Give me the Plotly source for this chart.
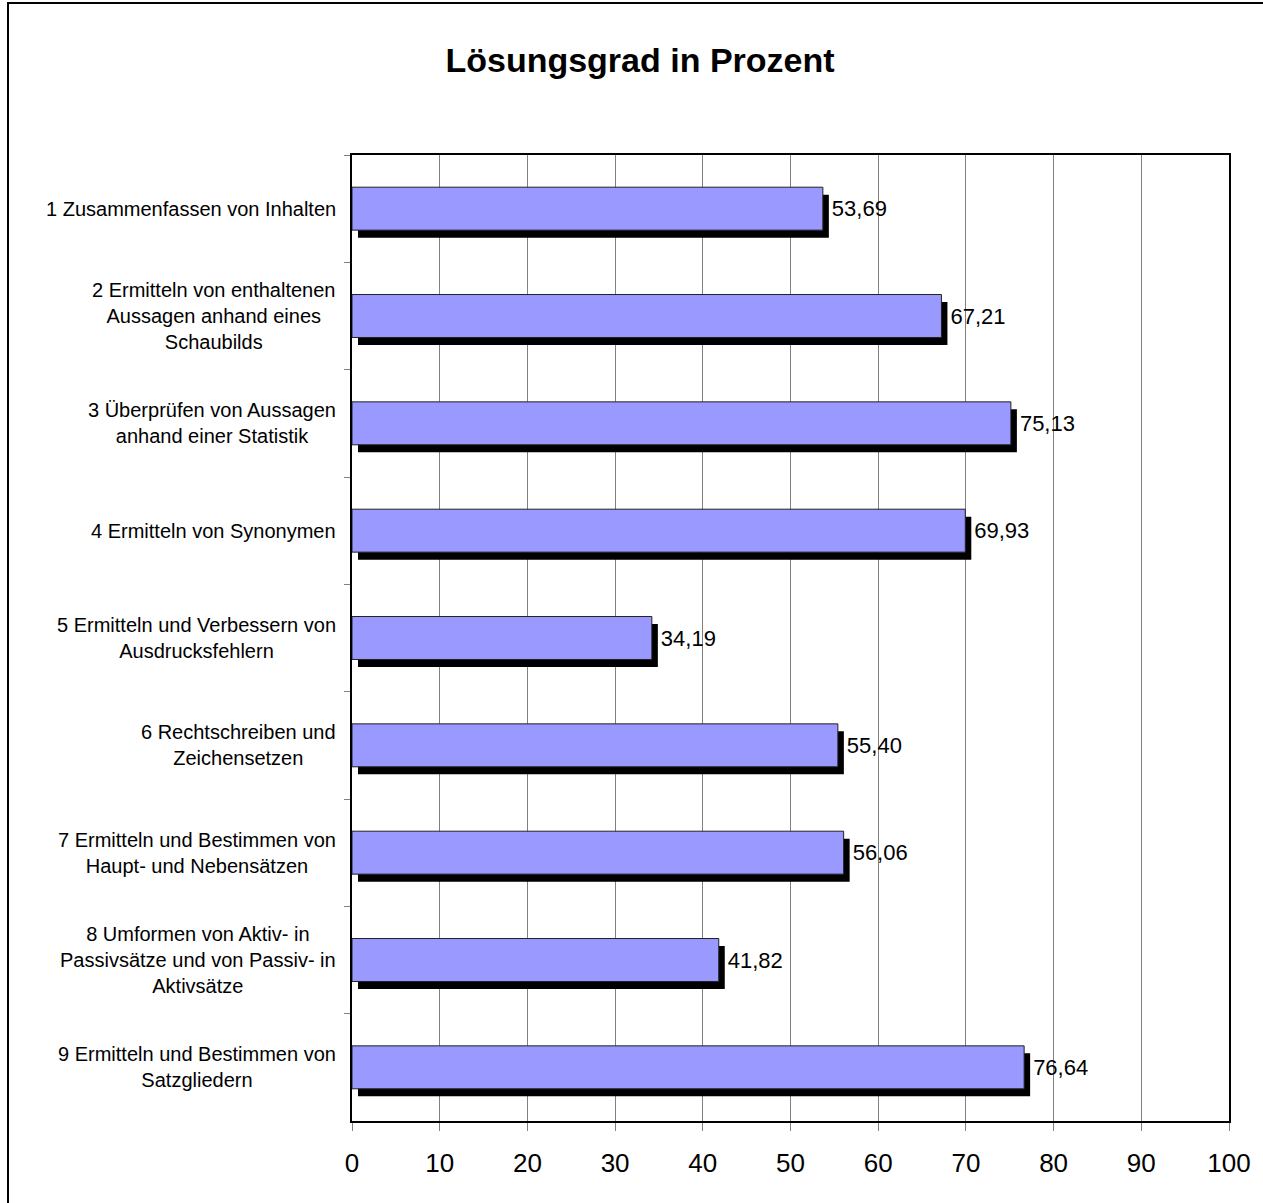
import plotly.graph_objects as go

categories = [
    "1 Zusammenfassen von Inhalten",
    "2 Ermitteln von enthaltenen<br>Aussagen anhand eines<br>Schaubilds",
    "3 Überprüfen von Aussagen<br>anhand einer Statistik",
    "4 Ermitteln von Synonymen",
    "5 Ermitteln und Verbessern von<br>Ausdrucksfehlern",
    "6 Rechtschreiben und<br>Zeichensetzen",
    "7 Ermitteln und Bestimmen von<br>Haupt- und Nebensätzen",
    "8 Umformen von Aktiv- in<br>Passivsätze und von Passiv- in<br>Aktivsätze",
    "9 Ermitteln und Bestimmen von<br>Satzgliedern",
]
values = [53.69, 67.21, 75.13, 69.93, 34.19, 55.40, 56.06, 41.82, 76.64]
x_ticks = [0, 10, 20, 30, 40, 50, 60, 70, 80, 90, 100]
title_text = "Lösungsgrad in Prozent"

W, H = 1263, 1203
ML, MR, MT, MB = 352, 34, 155, 82
PW = W - ML - MR
PH = H - MT - MB

FONT = "Arial, Liberation Sans, sans-serif"
labels_txt = [f"{v:.2f}".replace(".", ",") for v in values]

bar_w = 0.4
dx_units = 6 / PW * 100                  # shadow shift in x (data units)
dy_units = 7.5 / (PH / len(categories))  # shadow shift in y (category units)

fig = go.Figure()
# shadow
fig.add_trace(go.Bar(
    y=categories, x=values, base=dx_units, orientation="h",
    width=bar_w, offset=-bar_w / 2 + dy_units,
    marker=dict(color="black", line=dict(width=0)),
    hoverinfo="skip", showlegend=False,
))
# main bars
fig.add_trace(go.Bar(
    y=categories, x=values, orientation="h",
    width=bar_w, offset=-bar_w / 2,
    marker=dict(color="#9999FF", line=dict(color="#222222", width=1)),
    showlegend=False,
))
# value labels (invisible carrier bar shifted like the shadow)
fig.add_trace(go.Bar(
    y=categories, x=values, base=dx_units, orientation="h",
    width=bar_w, offset=-bar_w / 2,
    marker=dict(color="rgba(0,0,0,0)", line=dict(width=0)),
    text=labels_txt, textposition="outside", constraintext="none",
    textfont=dict(family=FONT, size=22, color="black"),
    cliponaxis=False, hoverinfo="skip", showlegend=False,
))

annotations = []
for i, lab in enumerate(categories):
    annotations.append(dict(
        x=0, xref="paper", y=i, yref="y",
        text=lab, showarrow=False, xanchor="right", yanchor="middle",
        align="center", xshift=-14,
        font=dict(family=FONT, size=20, color="black"),
    ))

# outer chart border (only left/top visible in the reference)
bx0 = (8 - ML) / PW
bx1 = (W + 20 - ML) / PW
by1 = (H - MB - 3) / PH
by0 = (H - MB - (H + 20)) / PH

fig.update_layout(
    width=W, height=H,
    margin=dict(l=ML, r=MR, t=MT, b=MB),
    paper_bgcolor="white", plot_bgcolor="white",
    barmode="overlay",
    title=dict(text=f"<b>{title_text}</b>", x=640 / W, xref="container", xanchor="center",
               y=1 - 60 / H, yref="container", yanchor="middle",
               font=dict(family=FONT, size=34, color="black")),
    annotations=annotations,
    shapes=[dict(type="rect", xref="paper", yref="paper",
                 x0=bx0, x1=bx1, y0=by0, y1=by1,
                 line=dict(color="black", width=2), fillcolor="rgba(0,0,0,0)", layer="below")],
    font=dict(family=FONT, color="black"),
)
fig.update_xaxes(
    range=[0, 100], tickvals=x_ticks, ticktext=[str(t) for t in x_ticks],
    showgrid=True, gridcolor="#808080", gridwidth=1,
    zeroline=False,
    showline=True, linecolor="black", linewidth=2, mirror=True,
    ticks="outside", ticklen=8, tickcolor="#808080", tickwidth=1,
    ticklabelstandoff=10,
    tickfont=dict(family=FONT, size=26, color="black"),
)
fig.update_yaxes(
    type="category", categoryorder="array", categoryarray=categories,
    autorange="reversed",
    showgrid=False, zeroline=False,
    showline=True, linecolor="black", linewidth=2, mirror=True,
    ticks="outside", tickson="boundaries", ticklen=6, tickcolor="#808080", tickwidth=1,
    showticklabels=False,
)

fig.write_html("out.html", config={"displayModeBar": False},
               post_script="document.body.style.margin='0';document.body.style.overflow='hidden';")
